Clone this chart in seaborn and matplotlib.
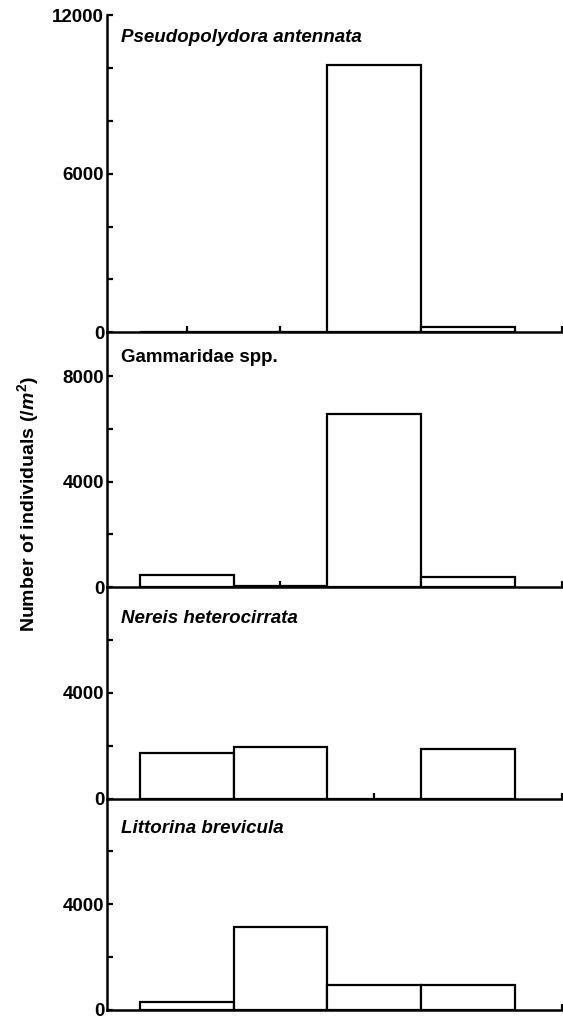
import matplotlib
matplotlib.use("Agg")
import matplotlib.pyplot as plt
import seaborn as sns
import pandas as pd
from matplotlib.ticker import FixedLocator

# densities (individuals per m2) at four sites
sites = ["1", "2", "3", "4"]
pseudopolydora = [0, 0, 10100, 200]
gammaridae = [450, 60, 6550, 380]
nereis = [1710, 1960, 0, 1880]
littorina = [280, 3130, 940, 930]

species = ["Pseudopolydora antennata", "Gammaridae spp.", "Nereis heterocirrata", "Littorina brevicula"]
values = [pseudopolydora, gammaridae, nereis, littorina]
italic = [True, False, True, True]
ymax = [12000, 9660, 8000, 8000]
major_ticks = [[0, 6000, 12000], [0, 4000, 8000], [0, 4000], [0, 4000]]
minor_ticks = [[2000, 4000, 8000, 10000], [2000, 6000], [2000, 6000], [2000, 6000]]

sns.set_style("ticks")
plt.rcParams['font.family'] = ['Liberation Sans', 'DejaVu Sans']
plt.rcParams['font.weight'] = 'bold'
plt.rcParams['mathtext.fontset'] = 'custom'
plt.rcParams['mathtext.it'] = 'Liberation Sans:italic:bold'
plt.rcParams['mathtext.rm'] = 'Liberation Sans:bold'
for key in ['text.color', 'axes.edgecolor', 'xtick.color', 'ytick.color', 'axes.labelcolor']:
    plt.rcParams[key] = 'black'

fig, axes = plt.subplots(4, 1, figsize=(5.63, 10.19), dpi=100,
                         gridspec_kw=dict(height_ratios=ymax, hspace=0))
fig.subplots_adjust(left=0.19, right=0.998, top=0.985, bottom=0.009)

title_y = [0.93, 0.90, 0.85, 0.86]

for ax, name, vals, it, top, maj, mnr, ty in zip(axes, species, values, italic, ymax,
                                                major_ticks, minor_ticks, title_y):
    df = pd.DataFrame({'site': sites, 'n': vals})
    sns.barplot(data=df, x='site', y='n', ax=ax, width=1.0, color='white',
                edgecolor='black', linewidth=1.6, saturation=1)
    ax.set_facecolor('none')
    ax.set_axisbelow(True)
    ax.set_xlim(-0.85, 4.0)
    ax.set_ylim(0, top)
    ax.set_xticks([0, 1, 2, 3, 4])
    ax.set_xticklabels([])
    ax.yaxis.set_major_locator(FixedLocator(maj))
    ax.yaxis.set_minor_locator(FixedLocator(mnr))
    ax.set_yticklabels([str(v) for v in maj], fontsize=13.5, fontweight='bold')
    ax.tick_params(direction='in', length=4, width=1.6, pad=2)
    ax.tick_params(which='minor', direction='in', length=4, width=1.6)
    ax.set_xlabel('')
    ax.set_ylabel('')
    sns.despine(ax=ax, top=True, right=True)
    ax.spines['left'].set_linewidth(1.8)
    ax.spines['bottom'].set_linewidth(1.8)
    ax.spines['bottom'].set_zorder(5)
    ax.text(0.03, ty, name, transform=ax.transAxes, fontsize=13.5, fontweight='bold',
            fontstyle='italic' if it else 'normal', va='center', ha='left')

fig.text(0.05, 0.505, r"Number of individuals (/$m^2$)", rotation=90,
         fontsize=14, fontweight='bold', va='center', ha='center')

plt.savefig("out.png", dpi=100, facecolor='white')
